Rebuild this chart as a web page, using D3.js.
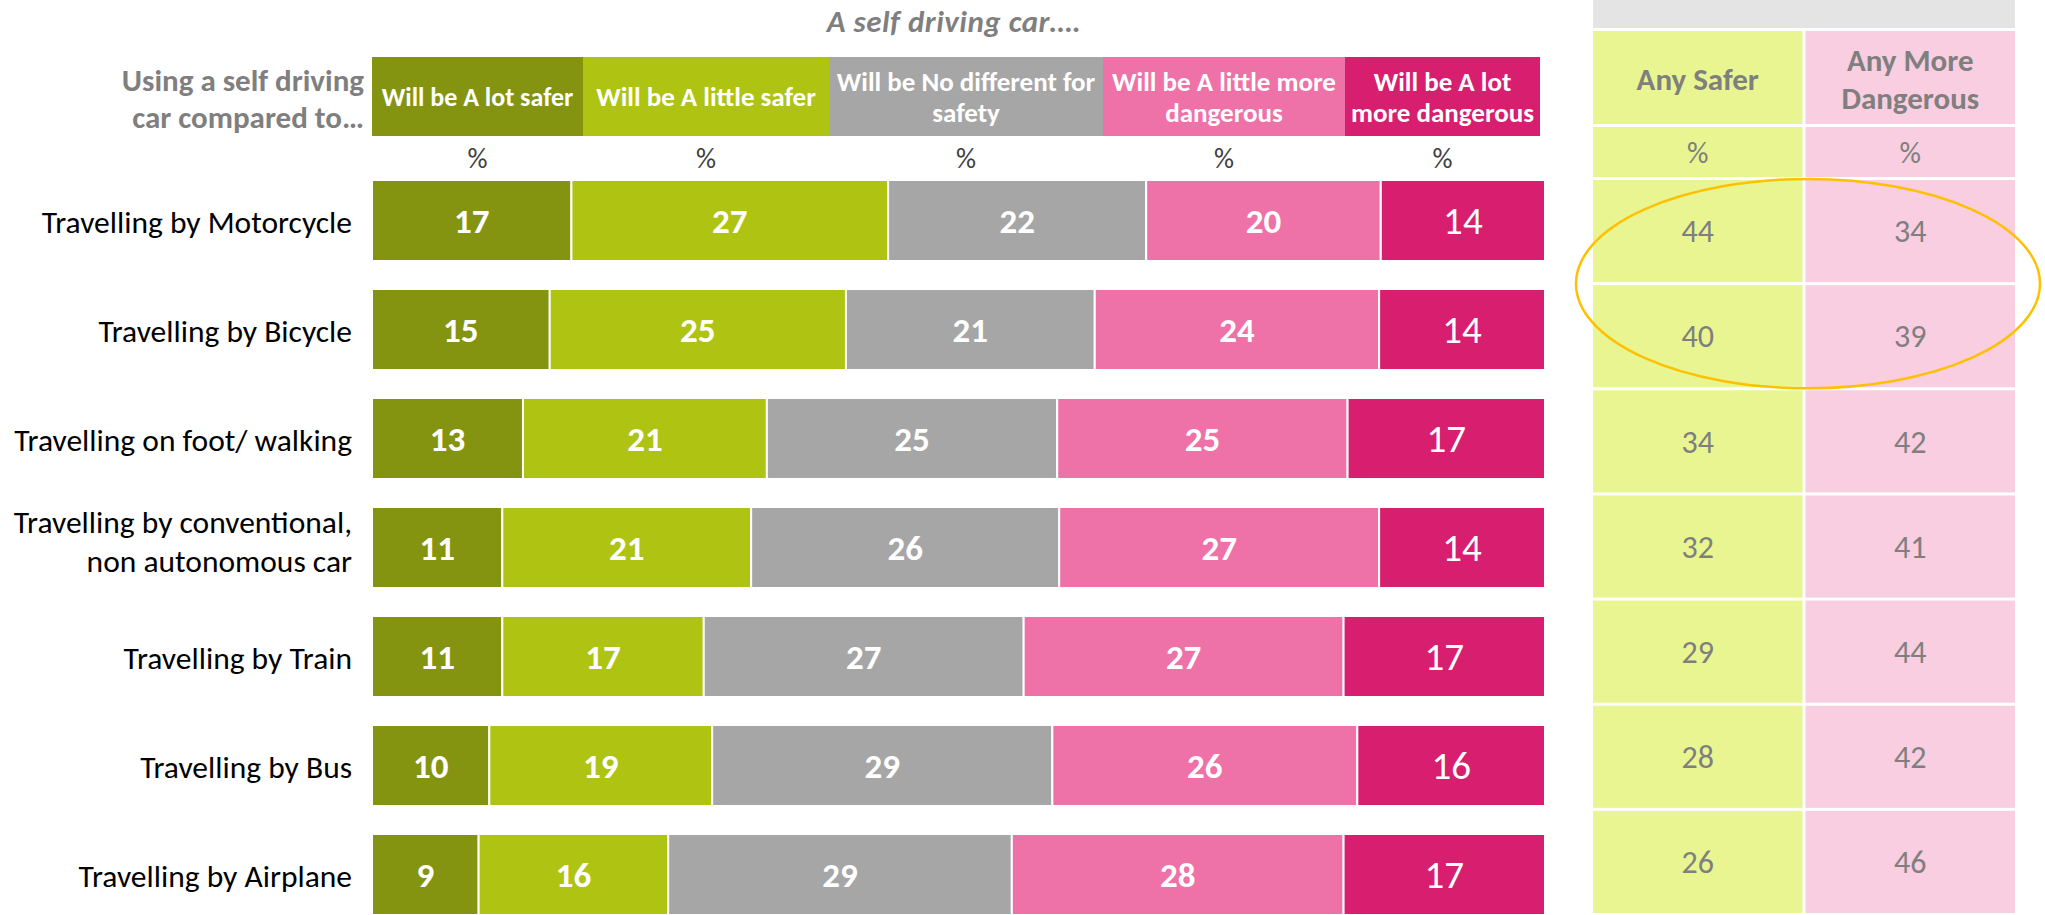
<!DOCTYPE html>
<html>
<head>
<meta charset="utf-8">
<script src="https://cdn.jsdelivr.net/npm/d3@7"></script>
<style>
  body { margin: 0; background: #fff; }
  svg text { font-family: Calibri, Carlito, 'Liberation Sans Narrow', 'DejaVu Sans Condensed', sans-serif; }
</style>
</head>
<body>
<svg id="chart"></svg>
<script>
// data
const categories = [
  'Travelling by Motorcycle',
  'Travelling by Bicycle',
  'Travelling on foot/ walking',
  'Travelling by conventional,\nnon autonomous car',
  'Travelling by Train',
  'Travelling by Bus',
  'Travelling by Airplane'
];
const seriesNames = [
  'Will be A lot safer',
  'Will be A little safer',
  'Will be No different for\nsafety',
  'Will be A little more\ndangerous',
  'Will be A lot\nmore dangerous'
];
const lotSafer    = [17, 15, 13, 11, 11, 10, 9];
const littleSafer = [27, 25, 21, 21, 17, 19, 16];
const noDifferent = [22, 21, 25, 26, 27, 29, 29];
const littleMore  = [20, 24, 25, 27, 27, 26, 28];
const lotMore     = [14, 14, 17, 14, 17, 16, 17];
const anySafer    = [44, 40, 34, 32, 29, 28, 26];
const anyMore     = [34, 39, 42, 41, 44, 42, 46];
const tableHeads  = ['Any Safer', 'Any More\nDangerous'];
const highlighted = ['Travelling by Motorcycle', 'Travelling by Bicycle'];

const colors = ['#849410', '#afc313', '#a6a6a6', '#ee72a7', '#d81e6e'];
const headerWidths = [211, 246, 274, 242, 195];   // header boxes are fixed in the layout

const W = 2045, H = 915;
const barLeft = 372, barRight = 1545;
const grey = '#7f7f7f';

const svg = d3.select('#chart').attr('width', W).attr('height', H);

const seriesVals = [lotSafer, littleSafer, noDifferent, littleMore, lotMore];
const rows = categories.map((c, i) => {
  const vals = seriesVals.map(s => s[i]);
  const total = d3.sum(vals);
  let acc = 0;
  const segs = vals.map((v, k) => {
    const s = {cat: c, k: k, v: v, x0: acc, x1: acc + v, total: total};
    acc += v;
    return s;
  });
  return {cat: c, segs: segs, total: total};
});

const y = d3.scaleBand()
  .domain(categories)
  .range([180, 915])
  .paddingInner(28 / 109)
  .paddingOuter(0);

// title
svg.append('text')
  .attr('x', 954).attr('y', 32)
  .attr('text-anchor', 'middle')
  .style('font-size', '31px').style('font-weight', 'bold').style('font-style', 'italic')
  .style('letter-spacing', '0.5px')
  .style('fill', grey)
  .text('A self driving car….');

// left header
const lh = svg.append('text')
  .attr('text-anchor', 'end')
  .style('font-size', '31px').style('font-weight', 'bold')
  .style('fill', grey);
['Using a self driving', 'car compared to…'].forEach((t, i) => {
  lh.append('tspan').attr('x', 364).attr('y', 91 + i * 37).text(t);
});

// header boxes
const hx = [barLeft];
headerWidths.forEach(w => hx.push(hx[hx.length - 1] + w));
const heads = svg.append('g').selectAll('g')
  .data(seriesNames)
  .join('g');
heads.append('rect')
  .attr('x', (d, i) => hx[i])
  .attr('y', 57)
  .attr('width', (d, i) => hx[i + 1] - hx[i])
  .attr('height', 79)
  .attr('fill', (d, i) => colors[i]);
heads.each(function(d, i) {
  const lines = d.split('\n');
  const t = d3.select(this).append('text')
    .attr('text-anchor', 'middle')
    .style('font-size', i === 0 ? '26px' : '27px').style('font-weight', 'bold')
    .style('fill', '#fff');
  lines.forEach((l, j) => {
    t.append('tspan')
      .attr('x', (hx[i] + hx[i + 1]) / 2)
      .attr('y', 106 + (j - (lines.length - 1) / 2) * 31)
      .text(l);
  });
});
// % row
heads.append('text')
  .attr('x', (d, i) => (hx[i] + hx[i + 1]) / 2)
  .attr('y', 168)
  .attr('text-anchor', 'middle')
  .style('font-size', '28px')
  .style('fill', '#404040')
  .text('%');

// category labels
const catLabels = svg.append('g').selectAll('text')
  .data(categories)
  .join('text')
  .attr('text-anchor', 'end')
  .style('font-size', '31.5px')
  .style('fill', '#000');
catLabels.each(function(d) {
  const lines = d.split('\n');
  const n = lines.length;
  const mid = y(d) + y.bandwidth() / 2;
  lines.forEach((l, j) => {
    d3.select(this).append('tspan')
      .attr('x', 352)
      .attr('y', mid + 12 + (j - (n - 1) / 2) * 39 - (n - 1) * 7)
      .text(l);
  });
});

// stacked bars
const rowG = svg.append('g').selectAll('g')
  .data(rows)
  .join('g')
  .attr('transform', d => `translate(0,${y(d.cat)})`);

rowG.each(function(r) {
  const x = d3.scaleLinear().domain([0, r.total]).range([barLeft, barRight]);
  const g = d3.select(this);
  g.selectAll('rect')
    .data(r.segs)
    .join('rect')
    .attr('x', d => x(d.x0))
    .attr('y', 0)
    .attr('width', d => x(d.x1) - x(d.x0))
    .attr('height', y.bandwidth())
    .attr('fill', d => colors[d.k])
    .attr('stroke', '#fff')
    .attr('stroke-width', 2);
  g.selectAll('text')
    .data(r.segs)
    .join('text')
    .attr('x', d => (x(d.x0) + x(d.x1)) / 2)
    .attr('y', y.bandwidth() / 2)
    .attr('dy', '0.35em')
    .attr('text-anchor', 'middle')
    .style('font-size', d => d.k === 4 ? '39px' : '35px')
    .style('font-weight', d => d.k === 4 ? 'normal' : 'bold')
    .style('fill', '#fff')
    .text(d => d.v);
});

// summary table on the right
const colX = d3.scaleBand()
  .domain(tableHeads)
  .range([1593, 2015])
  .paddingInner(3 / 210);
const tableFills = ['#e9f590', '#f8cee0'];
const yT = d3.scaleBand()
  .domain(categories)
  .range([180, 913])
  .paddingInner(3 / 105)
  .paddingOuter(0);

const table = svg.append('g');
table.append('rect')
  .attr('x', 1593).attr('y', 0)
  .attr('width', 2015 - 1593).attr('height', 28)
  .attr('fill', '#e4e4e4');

const cols = table.selectAll('g.col')
  .data(tableHeads)
  .join('g')
  .attr('class', 'col');

cols.append('rect')
  .attr('x', d => colX(d)).attr('y', 31)
  .attr('width', colX.bandwidth()).attr('height', 93)
  .attr('fill', (d, i) => tableFills[i]);
cols.each(function(d) {
  const lines = d.split('\n');
  const t = d3.select(this).append('text')
    .attr('text-anchor', 'middle')
    .style('font-size', '31px').style('font-weight', 'bold')
    .style('fill', grey);
  lines.forEach((l, j) => {
    t.append('tspan')
      .attr('x', colX(d) + colX.bandwidth() / 2)
      .attr('y', 90 + (j - (lines.length - 1) / 2) * 38)
      .text(l);
  });
});
cols.append('rect')
  .attr('x', d => colX(d)).attr('y', 127)
  .attr('width', colX.bandwidth()).attr('height', 50)
  .attr('fill', (d, i) => tableFills[i]);
cols.append('text')
  .attr('x', d => colX(d) + colX.bandwidth() / 2)
  .attr('y', 163)
  .attr('text-anchor', 'middle')
  .style('font-size', '30px')
  .style('fill', grey)
  .text('%');

const tableVals = [anySafer, anyMore];
cols.each(function(h, ci) {
  const g = d3.select(this);
  g.selectAll('rect.cell')
    .data(categories)
    .join('rect')
    .attr('class', 'cell')
    .attr('x', colX(h))
    .attr('y', d => yT(d))
    .attr('width', colX.bandwidth())
    .attr('height', yT.bandwidth())
    .attr('fill', tableFills[ci]);
  g.selectAll('text.val')
    .data(categories)
    .join('text')
    .attr('class', 'val')
    .attr('x', colX(h) + colX.bandwidth() / 2)
    .attr('y', d => yT(d) + yT.bandwidth() / 2)
    .attr('dy', '0.35em')
    .attr('text-anchor', 'middle')
    .style('font-size', '32px')
    .style('fill', grey)
    .text((d, i) => tableVals[ci][i]);
});

// highlight ring round the first two rows
const hTop = yT(highlighted[0]), hBot = yT(highlighted[1]) + yT.bandwidth();
svg.append('ellipse')
  .attr('cx', 1808)
  .attr('cy', (hTop + hBot) / 2)
  .attr('rx', 232)
  .attr('ry', (hBot - hTop) / 2 + 1)
  .attr('fill', 'none')
  .attr('stroke', '#ffc000')
  .attr('stroke-width', 2.5);
</script>
</body>
</html>
